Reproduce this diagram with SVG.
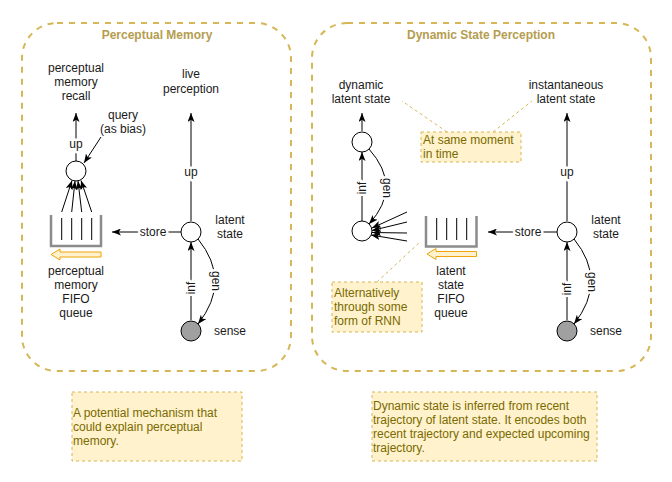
<svg xmlns="http://www.w3.org/2000/svg" width="672" height="482" viewBox="0 0 672 482">
<defs>
<marker id="arr" viewBox="0 0 9 7" refX="9" refY="3.5" markerWidth="9" markerHeight="7" orient="auto" markerUnits="userSpaceOnUse"><path d="M0,0 L9,3.5 L0,7 L2.2,3.5 Z" fill="#000"/></marker>
</defs>
<style>
text{font-family:"Liberation Sans",Arial,sans-serif;font-size:12px;fill:#1a1a1a}
.c{text-anchor:middle}
.title{font-weight:bold;fill:#b59d4f;text-anchor:middle}
.container{fill:none;stroke:#d6b656;stroke-width:2;stroke-dasharray:6 6}
.note{fill:#fff2cc;stroke:#d6b656;stroke-width:1;stroke-dasharray:3 3}
.nt{fill:#7a6a00}
.node{fill:#fff;stroke:#000;stroke-width:1}
.sense{fill:#a0a0a0;stroke:#000;stroke-width:1}
.edge{fill:none;stroke:#000;stroke-width:1;marker-end:url(#arr)}
.ln{fill:none;stroke:#000;stroke-width:1}
.queue{fill:none;stroke:#8c8c8c;stroke-width:2.5}
.fifo{fill:#fff2cc;stroke:#f0a30a;stroke-width:1}
.lbl{paint-order:stroke;stroke:#fff;stroke-width:5px;stroke-linejoin:round;text-anchor:middle}
.ncon{fill:none;stroke:#d6b656;stroke-width:1;stroke-dasharray:3 3}
</style>

<g id="perceptual-memory">
<rect class="container" x="22" y="23" width="269" height="348" rx="35" ry="35"/>
<text class="title" x="157" y="39">Perceptual Memory</text>
</g>
<g id="dynamic-state-perception">
<rect class="container" x="312" y="23" width="339" height="348" rx="35" ry="35"/>
<text class="title" x="481" y="39">Dynamic State Perception</text>
</g>

<g id="connectors">
<line class="edge" x1="76" y1="161" x2="76" y2="113"/>
<line class="edge" x1="101" y1="137" x2="84" y2="163"/>
<line class="edge" x1="61.7" y1="212" x2="72" y2="180.5"/>
<line class="edge" x1="71.7" y1="212" x2="75" y2="181"/>
<line class="edge" x1="81.7" y1="212" x2="78" y2="181"/>
<line class="edge" x1="91.7" y1="212" x2="81" y2="180.5"/>
<line class="edge" x1="181" y1="232" x2="112" y2="232"/>
<line class="edge" x1="191" y1="221" x2="191" y2="113"/>
<line class="edge" x1="191" y1="320" x2="191" y2="242"/>
<path class="edge" d="M198,239 Q232,281 198,324"/>

<line class="edge" x1="362" y1="131" x2="362" y2="113"/>
<line class="edge" x1="362" y1="221" x2="362" y2="152"/>
<path class="edge" d="M369,149 Q403,187 369,224"/>
<line class="edge" x1="407" y1="212" x2="372" y2="228"/>
<line class="edge" x1="407" y1="222" x2="372" y2="230.5"/>
<line class="edge" x1="407" y1="233" x2="372" y2="232.5"/>
<line class="edge" x1="407" y1="241" x2="371" y2="235"/>
<line class="edge" x1="557" y1="232" x2="488" y2="232"/>
<line class="edge" x1="567" y1="221" x2="567" y2="113"/>
<line class="edge" x1="567" y1="320" x2="567" y2="242"/>
<path class="edge" d="M574,239 Q608,281 574,324"/>

<line class="ncon" x1="447" y1="132" x2="402" y2="101"/>
<line class="ncon" x1="493" y1="132" x2="532" y2="101"/>
<line class="ncon" x1="377" y1="282" x2="420" y2="242"/>

<text class="lbl" x="76" y="148">up</text>
<text class="lbl" x="191" y="176">up</text>
<text class="lbl" x="153" y="236">store</text>
<text class="lbl" transform="translate(195,288) rotate(-90)">inf</text>
<text class="lbl" transform="translate(212,281) rotate(90)">gen</text>
<text class="lbl" transform="translate(366,188) rotate(-90)">inf</text>
<text class="lbl" transform="translate(383,188) rotate(90)">gen</text>
<text class="lbl" x="567" y="176">up</text>
<text class="lbl" x="528" y="236">store</text>
<text class="lbl" transform="translate(571,289) rotate(-90)">inf</text>
<text class="lbl" transform="translate(588,282) rotate(90)">gen</text>
</g>

<g id="recall-label">
<text class="c" x="76" y="72">perceptual</text>
<text class="c" x="76" y="86">memory</text>
<text class="c" x="76" y="100">recall</text>
</g>
<g id="query-label">
<text class="c" x="123" y="119">query</text>
<text class="c" x="123" y="133">(as bias)</text>
</g>
<g id="recall-node"><circle class="node" cx="76" cy="171" r="10"/></g>
<g id="pm-queue">
<path class="queue" d="M51,215 L51,246 L101,246 L101,215"/>
<line class="ln" x1="61.7" y1="218" x2="61.7" y2="240"/>
<line class="ln" x1="71.7" y1="218" x2="71.7" y2="240"/>
<line class="ln" x1="81.7" y1="218" x2="81.7" y2="240"/>
<line class="ln" x1="91.7" y1="218" x2="91.7" y2="240"/>
<path class="fifo" d="M101,252 L60,252 L60,249 L51,254.5 L60,260 L60,257 L101,257 Z"/>
<text class="c" x="76" y="275">perceptual</text>
<text class="c" x="76" y="289">memory</text>
<text class="c" x="76" y="303">FIFO</text>
<text class="c" x="76" y="317">queue</text>
</g>
<g id="live-perception">
<text class="c" x="191" y="78">live</text>
<text class="c" x="191" y="93">perception</text>
</g>
<g id="pm-latent">
<circle class="node" cx="191" cy="232" r="10"/>
<text class="c" x="230" y="224">latent</text>
<text class="c" x="230" y="238">state</text>
</g>
<g id="pm-sense">
<circle class="sense" cx="191" cy="331" r="10"/>
<text class="c" x="230" y="335">sense</text>
</g>

<g id="dynamic-label">
<text class="c" x="361" y="89">dynamic</text>
<text class="c" x="361" y="103">latent state</text>
</g>
<g id="dynamic-node"><circle class="node" cx="362" cy="142" r="10"/></g>
<g id="rnn-node"><circle class="node" cx="362" cy="231" r="10"/></g>
<g id="ds-queue">
<path class="queue" d="M426,216 L426,246.5 L476.5,246.5 L476.5,216"/>
<line class="ln" x1="436.7" y1="218" x2="436.7" y2="240"/>
<line class="ln" x1="446.7" y1="218" x2="446.7" y2="240"/>
<line class="ln" x1="456.7" y1="218" x2="456.7" y2="240"/>
<line class="ln" x1="466.7" y1="218" x2="466.7" y2="240"/>
<path class="fifo" d="M476.5,251.5 L436,251.5 L436,248.5 L427,254 L436,259.5 L436,256.5 L476.5,256.5 Z"/>
<text class="c" x="451" y="275">latent</text>
<text class="c" x="451" y="289">state</text>
<text class="c" x="451" y="303">FIFO</text>
<text class="c" x="451" y="317">queue</text>
</g>
<g id="instantaneous-label">
<text class="c" x="566" y="89">instantaneous</text>
<text class="c" x="566" y="103">latent state</text>
</g>
<g id="ds-latent">
<circle class="node" cx="567" cy="232" r="10"/>
<text class="c" x="606" y="224">latent</text>
<text class="c" x="606" y="238">state</text>
</g>
<g id="ds-sense">
<circle class="sense" cx="567" cy="331" r="10"/>
<text class="c" x="606" y="335">sense</text>
</g>

<g id="note-same-moment">
<rect class="note" x="421" y="132" width="100" height="30"/>
<text class="nt" x="423" y="144">At same moment</text>
<text class="nt" x="423" y="158">in time</text>
</g>
<g id="note-rnn">
<rect class="note" x="332" y="282" width="90" height="50"/>
<text class="nt" x="334" y="297">Alternatively</text>
<text class="nt" x="334" y="311">through some</text>
<text class="nt" x="334" y="325">form of RNN</text>
</g>
<g id="note-left">
<rect class="note" x="72" y="392" width="170" height="69"/>
<text class="nt" x="73" y="417">A potential mechanism that</text>
<text class="nt" x="73" y="431">could explain perceptual</text>
<text class="nt" x="73" y="445">memory.</text>
</g>
<g id="note-right">
<rect class="note" x="372" y="392" width="225" height="69"/>
<text class="nt" x="373" y="410">Dynamic state is inferred from recent</text>
<text class="nt" x="373" y="424">trajectory of latent state. It encodes both</text>
<text class="nt" x="373" y="438">recent trajectory and expected upcoming</text>
<text class="nt" x="373" y="452">trajectory.</text>
</g>
</svg>
